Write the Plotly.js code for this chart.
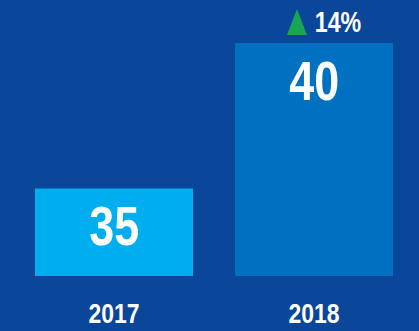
<!DOCTYPE html>
<html><head><meta charset="utf-8">
<script src="https://cdn.plot.ly/plotly-3.0.1.min.js"></script>
<style>html,body{margin:0;padding:0;background:#0a4699;}</style>
</head><body>
<div id="chart" style="width:419px;height:331px;"></div>
<script>
const categories = ['2017', '2018'];
const values = [35, 40];
const barColors = ['#00aeef', '#0070c0'];
const growthLabel = '14%';

const FONT = 'Liberation Sans, Arial, sans-serif';

const annotations = categories.map((c, i) => ({
  x: i, y: values[i], xref: 'x', yref: 'y',
  text: '<b>' + values[i] + '</b>', showarrow: false,
  yanchor: 'middle', yshift: -37,
  font: {family: FONT, size: 56, color: '#ffffff'}
}));
annotations.push({
  x: 1, y: values[1], xref: 'x', yref: 'y',
  text: '<b>' + growthLabel + '</b>', showarrow: false,
  xshift: 24, yshift: 21, yanchor: 'middle',
  font: {family: FONT, size: 29, color: '#ffffff'}
});

const layout = {
  width: 419, height: 331,
  margin: {l: 14, r: 5, t: 10, b: 55},
  paper_bgcolor: '#0a4699', plot_bgcolor: '#0a4699',
  showlegend: false,
  bargap: 0.21,
  xaxis: {
    type: 'category', range: [-0.5, 1.5],
    showgrid: false, zeroline: false, showline: false, ticks: '',
    tickfont: {family: FONT, size: 28, color: '#ffffff', weight: 'bold'},
    ticklabelstandoff: 18
  },
  yaxis: {range: [32, 41.133], showgrid: false, zeroline: false, showline: false,
          showticklabels: false, ticks: '', fixedrange: true},
  annotations: annotations,
  shapes: [{
    type: 'path', xref: 'x', yref: 'y',
    xsizemode: 'pixel', ysizemode: 'pixel',
    xanchor: 1, yanchor: values[1],
    path: 'M -27 8 L -17 34 L -7 8 Z',
    fillcolor: '#17a653', line: {width: 0}
  }]
};

function condense() {
  const gd = document.getElementById('chart');
  gd.querySelectorAll('text.annotation-text').forEach(t => {
    const x = parseFloat(t.getAttribute('x')) || 0;
    t.setAttribute('transform', 'translate(' + x + ',0) scale(0.8,1) translate(' + (-x) + ',0)');
  });
  gd.querySelectorAll('.xtick text').forEach(t => {
    const base = t.getAttribute('transform') || '';
    const x = parseFloat(t.getAttribute('x')) || 0;
    t.setAttribute('transform', base + ' translate(' + x + ',0) scale(0.82,1) translate(' + (-x) + ',0)');
  });
}

Plotly.newPlot('chart', [{
  type: 'bar', x: categories, y: values,
  marker: {color: barColors, line: {width: 0}},
  hoverinfo: 'none'
}], layout, {displayModeBar: false, staticPlot: true}).then(condense);
</script>
</body></html>
